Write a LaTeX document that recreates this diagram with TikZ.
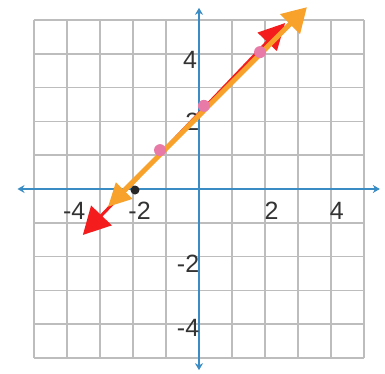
\documentclass[tikz,border=0pt]{standalone}
\usepackage{fontspec}
\setmainfont{Liberation Sans}
\usetikzlibrary{arrows.meta}
\definecolor{gridc}{HTML}{BDBDBD}
\definecolor{axisc}{HTML}{3A8CC4}
\definecolor{orangec}{HTML}{F8A12B}
\definecolor{redc}{HTML}{F41C1C}
\definecolor{pinkc}{HTML}{E87AA8}
\definecolor{labc}{HTML}{333333}
\tikzset{
  gridline/.style={draw=gridc, line width=1.6pt},
  axisline/.style={draw=axisc, line width=2.2pt, {Stealth[length=7pt,width=8pt]}-{Stealth[length=7pt,width=8pt]}},
  redline/.style={draw=redc, line width=3pt, {Triangle[length=27pt,width=28pt]}-{Triangle[length=26pt,width=26pt]}},
  orangeline/.style={draw=orangec, line width=5pt, {Triangle[length=23pt,width=22pt]}-{Triangle[length=24pt,width=27pt]}},
  pinkdot/.style={circle, fill=pinkc, inner sep=0pt, minimum size=12pt},
  blackdot/.style={circle, fill=black!85, inner sep=0pt, minimum size=9pt},
  lab/.style={text=labc, font=\fontsize{25}{30}\selectfont, inner sep=0pt}
}
\begin{document}
\begin{tikzpicture}[x=33pt,y=33.8pt]
\useasboundingbox (-199pt,-185pt) rectangle (186pt,189pt);
\fill[white] (-199pt,-185pt) rectangle (186pt,189pt);
% grid
\draw[gridline] (-5,-5) grid[step=1] (5,5);
% axes
\coordinate (xl) at (-5.5,0);
\coordinate (xr) at (5.48,0);
\coordinate (yt) at (0,5.36);
\coordinate (yb) at (0,-5.36);
\draw[axisline] (xl) -- (xr);
\draw[axisline] (yb) -- (yt);
% labels
\node[lab] (lxm4) at (-3.78,-0.64) {-4};
\node[lab] (lxm2) at (-1.8,-0.64) {-2};
\node[lab] (lx2) at (2.2,-0.64) {2};
\node[lab] (lx4) at (4.18,-0.64) {4};
\node[lab] (ly4) at (-0.27,3.82) {4};
\node[lab] (ly2) at (-0.2,1.98) {2};
\node[lab] (lym2) at (-0.33,-2.2) {-2};
\node[lab] (lym4) at (-0.33,-4.1) {-4};
% red line
\coordinate (ra) at (-3.52,-1.36);
\coordinate (rb) at (2.61,4.91);
\draw[redline] (ra) -- (rb);
% orange line
\coordinate (oa) at (-2.76,-0.53);
\coordinate (ob) at (3.27,5.38);
\draw[orangeline] (oa) -- (ob);
% points
\node[blackdot] (b1) at (-1.94,-0.03) {};
\node[pinkdot] (p1) at (-1.18,1.15) {};
\node[pinkdot] (p2) at (0.15,2.46) {};
\node[pinkdot] (p3) at (1.85,4.05) {};
\end{tikzpicture}
\end{document}
